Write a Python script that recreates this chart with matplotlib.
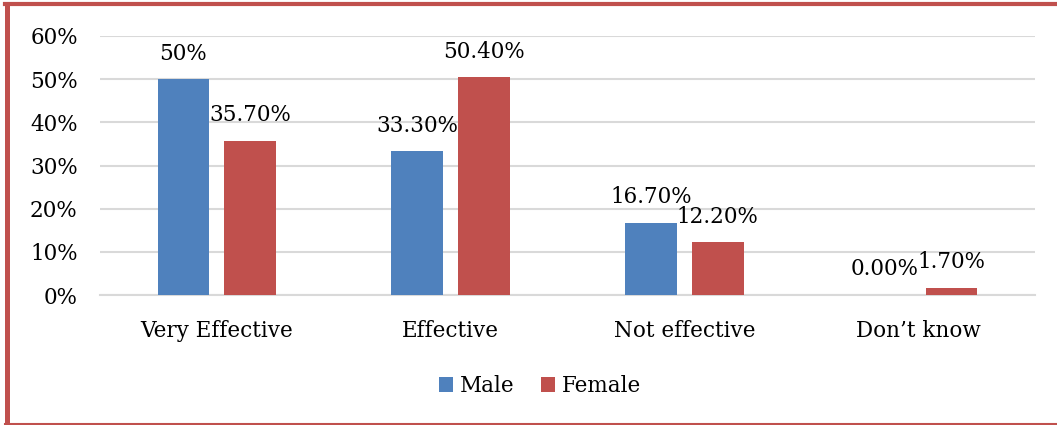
import matplotlib
matplotlib.use("Agg")
import matplotlib.pyplot as plt
from matplotlib.lines import Line2D
import numpy as np

categories = ["Very Effective", "Effective", "Not effective", "Don\u2019t know"]
male = [50.0, 33.3, 16.7, 0.0]
female = [35.7, 50.4, 12.2, 1.7]
male_labels = ["50%", "33.30%", "16.70%", "0.00%"]
female_labels = ["35.70%", "50.40%", "12.20%", "1.70%"]
yticks = [0, 10, 20, 30, 40, 50, 60]
ytick_labels = ["0%", "10%", "20%", "30%", "40%", "50%", "60%"]

BLUE = "#4F81BD"
RED = "#C0504D"

plt.rcParams["font.family"] = ["DejaVu Serif"]
FS = 15.5

fig = plt.figure(figsize=(10.57, 4.25), dpi=100)
ax = fig.add_axes([100/1057, 1-295/425, 935/1057, 259/425])

x = np.arange(len(categories))
w = 0.222
off = 0.143
bm = ax.bar(x - off, male, w, color=BLUE, label="Male", zorder=3)
bf = ax.bar(x + off, female, w, color=RED, label="Female", zorder=3)

for xi, v, t in zip(x - off, male, male_labels):
    ax.annotate(t, (xi, v), xytext=(0, 10.5), textcoords="offset points",
                ha="center", va="bottom", fontsize=FS, zorder=4)
for xi, v, t in zip(x + off, female, female_labels):
    ax.annotate(t, (xi, v), xytext=(0, 10.5), textcoords="offset points",
                ha="center", va="bottom", fontsize=FS, zorder=4)

ax.set_xlim(-0.5, len(categories) - 0.5)
ax.set_ylim(0, 60)
ax.set_yticks(yticks)
ax.set_yticklabels(ytick_labels, fontsize=FS)
ax.set_xticks(x)
ax.set_xticklabels(categories, fontsize=FS)
ax.tick_params(axis="y", length=0, pad=16)
ax.tick_params(axis="x", length=0, pad=18)
ax.yaxis.grid(True, color="#D9D9D9", linewidth=1.5, zorder=0)
for s in ["top", "right", "left"]:
    ax.spines[s].set_visible(False)
ax.spines["bottom"].set_color("#D9D9D9")
ax.spines["bottom"].set_linewidth(1.5)

fig.legend(handles=[bm, bf], labels=["Male", "Female"], loc="center",
           bbox_to_anchor=(540/1057, 1-386/425), ncol=2, frameon=False,
           fontsize=FS, handlelength=0.65, handleheight=0.65, handletextpad=0.35,
           columnspacing=1.2)

# red frame
fig.add_artist(Line2D([6.5/1057, 6.5/1057], [0, 1-4/425], transform=fig.transFigure,
                      color=RED, linewidth=3.6))
fig.add_artist(Line2D([5/1057, 1], [1-4/425, 1-4/425], transform=fig.transFigure,
                      color=RED, linewidth=3.0))
fig.add_artist(Line2D([5/1057, 1], [1.5/425, 1.5/425], transform=fig.transFigure,
                      color=RED, linewidth=1.5))

fig.savefig("out.png", dpi=100)
